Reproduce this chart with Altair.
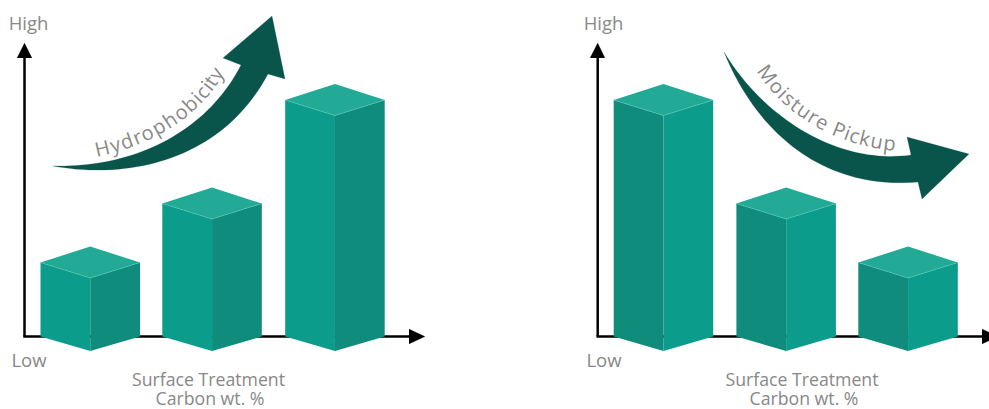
import math
import altair as alt
import pandas as pd

# Canvas-sized coordinate frame: one scale unit is one pixel, y grows downward.
WIDTH, HEIGHT = 989, 409
BASE_Y = 336.5      # height of the horizontal axis
BAR_W = 99.5        # full width of a box seen from its corner
DEPTH = 15.5        # vertical offset of the isometric corner

FRONT = "#0b9c8c"
SHADE = "#0f8c7b"
TOP = "#22aa97"
EDGE = "#55c4b4"
ARROW = "#0a554b"
AXIS = "#000000"
TEXT = "#888888"

# Bar heights above the axis and the left edge of each box.
left_heights = [74, 133, 236.5]
left_x = [40.5, 162.3, 285.2]
right_heights = [236.5, 133, 74]
right_x = [613.7, 736.4, 858.3]

# Cubic outlines of the two swooping arrows and their heads.
hydro_lower = [(53, 166), (130, 180), (222, 160), (268, 74)]
hydro_upper = [(241, 65), (205, 135), (130, 168), (53, 166)]
hydro_head = [(241, 65), (223, 58), (272, 16), (285, 79), (268, 74)]
moist_lower = [(724, 52), (760, 140), (830, 190), (918, 182)]
moist_upper = [(911, 155), (840, 165), (765, 120), (724, 52)]
moist_head = [(918, 182), (922, 199), (969, 154), (907, 137), (911, 155)]

# Baselines of the curved captions.
hydro_base = [(96, 157), (140, 148), (195, 125), (225, 72)]
moist_base = [(756, 70), (780, 110), (830, 145), (896, 151)]

# Approximate advance widths, in em, for laying letters along a curve.
ADVANCE = {"H": .74, "y": .5, "d": .61, "r": .41, "o": .6, "p": .61, "h": .61,
           "b": .61, "i": .25, "c": .48, "t": .35, "M": .9, "s": .48, "u": .61,
           "e": .56, "k": .5, "P": .6, " ": .26}


def bez(p, t):
    a, b, c, d = p
    u = 1 - t
    return (u**3 * a[0] + 3 * u * u * t * b[0] + 3 * u * t * t * c[0] + t**3 * d[0],
            u**3 * a[1] + 3 * u * u * t * b[1] + 3 * u * t * t * c[1] + t**3 * d[1])


def sample(p, n=40):
    return [bez(p, i / n) for i in range(n + 1)]


def faces(heights, xs, left_color, right_color):
    rows = []
    for k, (h, x0) in enumerate(zip(heights, xs)):
        top = BASE_Y - h
        mid, x1 = x0 + BAR_W / 2, x0 + BAR_W
        pid = f"{x0}"
        rows += [
            dict(id=pid + "L", x=x0, y=top, y2=BASE_Y, color=left_color),
            dict(id=pid + "L", x=mid, y=top + DEPTH, y2=BASE_Y + DEPTH - 1, color=left_color),
            dict(id=pid + "R", x=mid, y=top + DEPTH, y2=BASE_Y + DEPTH - 1, color=right_color),
            dict(id=pid + "R", x=x1, y=top, y2=BASE_Y, color=right_color),
            dict(id=pid + "T", x=x0, y=top, y2=top, color=TOP),
            dict(id=pid + "T", x=mid, y=top - DEPTH - .5, y2=top + DEPTH, color=TOP),
            dict(id=pid + "T", x=x1, y=top, y2=top, color=TOP),
        ]
    return rows


def top_edges(heights, xs):
    rows = []
    for h, x0 in zip(heights, xs):
        top = BASE_Y - h
        mid, x1 = x0 + BAR_W / 2, x0 + BAR_W
        for i, (x, y) in enumerate([(x0, top), (mid, top + DEPTH), (x1, top)]):
            rows.append(dict(id=str(x0), i=i, x=x, y=y))
    return rows


def outline(name, points):
    return [dict(id=name, i=i, x=x, y=y) for i, (x, y) in enumerate(points)]


def curved_text(word, curve):
    pts = sample(curve, 300)
    seg = [math.dist(pts[i], pts[i + 1]) for i in range(300)]
    total = sum(seg)
    used = sum(ADVANCE[c] for c in word)
    scale = total / used
    rows, pos = [], 0.0
    for c in word:
        target = pos + ADVANCE[c] * scale / 2
        pos += ADVANCE[c] * scale
        run, j = 0.0, 0
        while j < 299 and run + seg[j] < target:
            run += seg[j]
            j += 1
        x, y = pts[j]
        ang = math.degrees(math.atan2(pts[j + 1][1] - y, pts[j + 1][0] - x)) % 360
        rows.append(dict(ch=c, x=x, y=y, angle=ang))
    return rows


x_enc = alt.X("x:Q", scale=alt.Scale(domain=[0, WIDTH]), axis=None)
y_enc = alt.Y("y:Q", scale=alt.Scale(domain=[HEIGHT, 0]), axis=None)


def polygons(rows, color, clip=False):
    return alt.Chart(pd.DataFrame(rows)).mark_line(
        fill=color, stroke=color, strokeWidth=0.2, clip=clip
    ).encode(x=x_enc, y=y_enc, detail="id:N", order="i:Q")


def axis_lines(x0, x_end):
    rows = [
        dict(x=x0, y=BASE_Y, xe=x0, ye=58),
        dict(x=x0 - 1.2, y=BASE_Y, xe=x_end, ye=BASE_Y),
    ]
    return alt.Chart(pd.DataFrame(rows)).mark_rule(color=AXIS, strokeWidth=2.5, clip=True).encode(
        x=x_enc, y=y_enc, x2="xe:Q", y2="ye:Q")


axes = (axis_lines(24.5, 410) + axis_lines(597.7, 984))
heads = polygons(
    outline("a", [(17, 58), (24.5, 43), (32, 58)])
    + outline("b", [(409, 329), (425, 336.5), (409, 344)])
    + outline("c", [(590, 58), (597.7, 43), (605, 58)])
    + outline("d", [(982, 329), (998, 336.5), (982, 344)]),
    AXIS, clip=True)

box_rows = faces(left_heights, left_x, FRONT, SHADE) + faces(right_heights, right_x, SHADE, FRONT)
boxes = alt.Chart(pd.DataFrame(box_rows)).mark_area(orient="vertical").encode(
    x=x_enc, y=y_enc, y2="y2:Q",
    color=alt.Color("color:N", scale=None), detail="id:N")

edges = alt.Chart(pd.DataFrame(top_edges(left_heights, left_x) + top_edges(right_heights, right_x))).mark_line(
    color=EDGE, strokeWidth=0.6).encode(x=x_enc, y=y_enc, detail="id:N", order="i:Q")

arrows = polygons(
    outline("up", sample(hydro_lower) + hydro_head[::-1][1:-1] + sample(hydro_upper))
    + outline("down", sample(moist_lower) + moist_head[1:-1] + sample(moist_upper)),
    ARROW)

end_labels = pd.DataFrame([
    dict(t="High", x=28.5, y=29.5), dict(t="Low", x=29, y=366.5),
    dict(t="High", x=603.5, y=29.5), dict(t="Low", x=604, y=366.5),
])
end_marks = alt.Chart(end_labels).mark_text(
    font="Open Sans", fontSize=18.5, color=TEXT, align="center", baseline="alphabetic"
).encode(x=x_enc, y=y_enc, text="t:N")

axis_titles = pd.DataFrame([
    dict(t="Surface Treatment", x=208.5, y=386), dict(t="Carbon wt. %", x=210, y=405),
    dict(t="Surface Treatment", x=802, y=386), dict(t="Carbon wt. %", x=804, y=405),
])
title_marks = alt.Chart(axis_titles).mark_text(
    font="Open Sans", fontSize=17.7, color=TEXT, align="center", baseline="alphabetic"
).encode(x=x_enc, y=y_enc, text="t:N")

letters = pd.DataFrame(curved_text("Hydrophobicity", hydro_base)
                       + curved_text("Moisture Pickup", moist_base))
curved = alt.Chart(letters).mark_text(
    font="Open Sans", fontSize=20, color=TEXT, align="center", baseline="alphabetic"
).encode(x=x_enc, y=y_enc, text="ch:N", angle=alt.Angle("angle:Q", scale=None))

chart = alt.layer(axes, heads, arrows, boxes, edges, end_marks, title_marks, curved).properties(
    width=WIDTH, height=HEIGHT, padding=0, autosize=alt.AutoSizeParams(type="none"),
    background="white",
).configure_view(stroke=None)

chart.save("out.html", embed_options={"renderer": "svg", "actions": False})
